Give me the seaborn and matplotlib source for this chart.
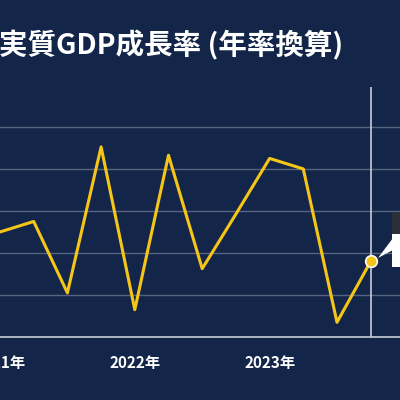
import matplotlib
matplotlib.use("Agg")
import matplotlib.pyplot as plt
import seaborn as sns
import pandas as pd
from matplotlib.patches import Rectangle, Polygon

quarters = ["2021Q1","2021Q2","2021Q3","2021Q4","2022Q1","2022Q2","2022Q3","2022Q4",
            "2023Q1","2023Q2","2023Q3","2023Q4"]
growth = [2.0, 3.0, -3.8, 10.1, -5.4, 9.3, -1.5, 3.7, 9.0, 8.0, -6.6, -0.8]
year_ticks = [0, 4, 8]
year_labels = ["2021年", "2022年", "2023年"]

bg = "#13264a"
sns.set_theme(style="dark")
plt.rcParams["font.family"] = ["Noto Sans CJK JP", "DejaVu Sans"]

df = pd.DataFrame({"i": range(len(quarters)), "g": growth})
fig = plt.figure(figsize=(4, 4), dpi=100, facecolor=bg)
ax = fig.add_axes([0, 63/400, 1, 250/400])
ax.set_facecolor(bg)
for v in [-4, 0, 4, 8, 12]:
    ax.axhline(v, color="#56647f", lw=1, zorder=0)
sns.lineplot(data=df, x="i", y="g", color="#f5c518", lw=2.2, ax=ax)
ax.axvline(11, color="#c8ccd6", lw=1.2)
ax.scatter([11], [growth[-1]], s=70, color="#f5c518", edgecolor="white", lw=1.2, zorder=5)
ax.set_xlim(0, 400/33.7)
ax.set_ylim(-8, 15.8)
ax.set_xticks(year_ticks)
ax.set_xticklabels(year_labels, color="white", fontsize=11, fontweight="bold")
ax.set_yticks([])
ax.set_xlabel(""); ax.set_ylabel("")
ax.tick_params(axis="x", colors="#c8ccd6", length=5, width=1, pad=8)
for t in ax.get_xticklabels():
    t.set_color("white")
for s in ["top", "right", "left"]:
    ax.spines[s].set_visible(False)
ax.spines["bottom"].set_color("#c8ccd6")
ax.spines["bottom"].set_linewidth(1.2)

fig.text(-0.003, 0.888, "実質GDP成長率 (年率換算)", color="white", fontsize=20.5,
         fontweight="bold", ha="left", va="center")
fig.add_artist(Rectangle((392/400, 1-267/400), 10/400, 33/400, transform=fig.transFigure,
                         facecolor="white", edgecolor="none"))
fig.add_artist(Rectangle((392/400, 1-234/400), 10/400, 22/400, transform=fig.transFigure,
                         facecolor="#2a2f3a", edgecolor="none"))
fig.add_artist(Polygon([(378/400, 1-258/400), (393/400, 1-238/400), (393/400, 1-250/400)],
                       closed=True, transform=fig.transFigure, facecolor="white", edgecolor="none"))
fig.savefig("out.png", facecolor=bg)
